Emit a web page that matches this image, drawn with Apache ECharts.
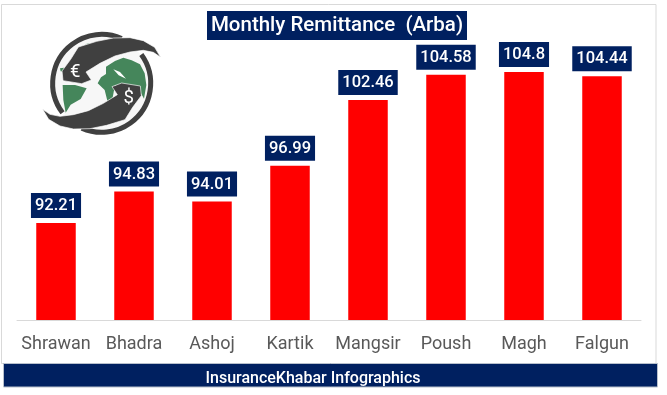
<!DOCTYPE html>
<html>
<head>
<meta charset="utf-8">
<style>html,body{margin:0;padding:0;background:#fff}#c{width:667px;height:395px}</style>
<script src="https://cdn.jsdelivr.net/npm/echarts@6/dist/echarts.min.js"></script>
</head>
<body>
<div id="c"></div>
<script>
const categories = ['Shrawan','Bhadra','Ashoj','Kartik','Mangsir','Poush','Magh','Falgun'];
const remittance = [92.21,94.83,94.01,96.99,102.46,104.58,104.8,104.44];
const titleText = 'Monthly Remittance  (Arba)';
const footerText = 'InsuranceKhabar Infographics';
const NAVY = '#002060', DARK = '#404040', GREEN = '#45865b';
const FONT = '"Roboto", sans-serif';

const arrowA = [[482,172],[464,142],[430,122],[390,113],[340,114],[290,124],[235,141],[212,178],[186,213],[189,242],[245,251],[274,240],[258,216],[300,190],[345,168],[390,156],[430,151],[460,157]];
const arrowB = arrowA.map(p => [610-p[0], 500-p[1]]);
const africa = [[293,250],[303,232],[318,222],[318,200],[345,183],[370,173],[395,181],[420,193],[434,220],[439,255],[432,296],[415,265],[395,255],[345,255],[337,298],[322,302],[314,270]];
const samerica = [[188,255],[225,255],[260,265],[242,297],[212,314],[197,338],[190,300]];
const nsliver = [[240,146],[262,130],[298,128],[262,150]];
const speck = [[180,205],[192,203],[190,215],[182,214]];
const med = [[340,208],[360,216],[378,236],[356,226]];

const chart = echarts.init(document.getElementById('c'), null, {renderer:'canvas'});
chart.setOption({
  animation:false,
  backgroundColor:'#fff',
  grid:{left:17,right:26,top:20,height:300},
  xAxis:{type:'category',data:categories,
    axisLine:{lineStyle:{color:'#d9d9d9',width:1}},axisTick:{show:false},
    axisLabel:{color:'#595959',fontFamily:FONT,fontSize:18,margin:15,interval:0}},
  yAxis:{type:'value',min:84.12,max:109.14,show:false,splitLine:{show:false}},
  series:[{type:'bar',data:remittance,barWidth:39.5,itemStyle:{color:'#ff0000'},
    label:{show:true,position:'top',distance:5,color:'#fff',fontFamily:FONT,fontSize:16.5,fontWeight:500,
      backgroundColor:NAVY,padding:[4,4,3,4],lineHeight:18}}],
  graphic:[
    {type:'rect',z:-1,shape:{x:1.5,y:4.5,width:654.5,height:359},style:{fill:'#fff',stroke:'#d9d9d9',lineWidth:1}},
    {type:'rect',shape:{x:207,y:11,width:260,height:29},style:{fill:NAVY}},
    {type:'text',x:337,y:26,style:{text:titleText,fill:'#fff',font:'500 20.5px '+FONT,textAlign:'center',textVerticalAlign:'middle'}},
    {type:'rect',shape:{x:3.5,y:363.5,width:654,height:23.5},style:{fill:NAVY,stroke:'#b8c0cc',lineWidth:1}},
    {type:'text',x:313,y:379,style:{text:footerText,fill:'#fff',font:'500 16px '+FONT,textAlign:'center',textVerticalAlign:'middle'}},
    {type:'group',x:0,y:0,scaleX:1/3,scaleY:1/3,children:[
      {type:'circle',shape:{cx:305,cy:250,r:145},style:{fill:'#f7f7f7'}},
      {type:'arc',shape:{cx:305,cy:250,r:147,startAngle:143*Math.PI/180,endAngle:294*Math.PI/180},style:{stroke:DARK,fill:null,lineWidth:15}},
      {type:'arc',shape:{cx:305,cy:250,r:147,startAngle:-36*Math.PI/180,endAngle:114*Math.PI/180},style:{stroke:DARK,fill:null,lineWidth:15}},
      {type:'polygon',shape:{points:africa},style:{fill:GREEN}},
      {type:'polygon',shape:{points:samerica},style:{fill:GREEN}},
      {type:'polygon',shape:{points:nsliver},style:{fill:'#9dbfa8'}},
      {type:'polygon',shape:{points:speck},style:{fill:GREEN}},
      {type:'polygon',shape:{points:med},style:{fill:'#fff'}},
      {type:'polygon',shape:{points:arrowA},style:{fill:DARK,stroke:'#fff',lineWidth:2}},
      {type:'polygon',shape:{points:arrowB},style:{fill:DARK,stroke:'#fff',lineWidth:2}},
      {type:'text',x:226,y:216,style:{text:'€',fill:'#fff',font:'400 56px '+FONT,textAlign:'center',textVerticalAlign:'middle'}},
      {type:'text',x:386,y:296,style:{text:'$',fill:'#fff',font:'400 56px '+FONT,textAlign:'center',textVerticalAlign:'middle'}}
    ]}
  ]
});
</script>
</body>
</html>
